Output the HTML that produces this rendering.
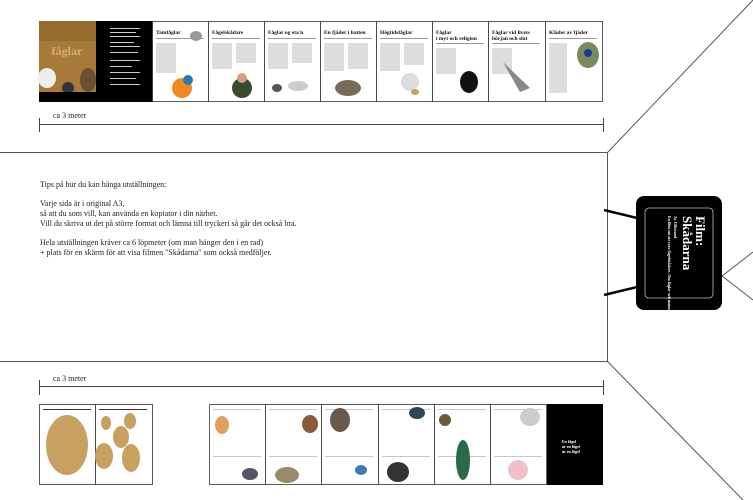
<!DOCTYPE html>
<html><head><meta charset="utf-8"><style>
html,body{margin:0;padding:0;background:#fff;}
svg{display:block;}
</style></head><body>
<svg width="753" height="500" viewBox="0 0 753 500" xmlns="http://www.w3.org/2000/svg" font-family="Liberation Serif, serif">
<!-- top row -->
<rect x="39" y="21" width="57" height="81" fill="#a87a3a"/>
<rect x="39" y="21" width="57" height="20" fill="#8a6024" opacity="0.6"/>
<text x="67" y="55" font-size="12" font-weight="bold" fill="#d8b070" text-anchor="middle">fåglar</text>
<ellipse cx="47" cy="78" rx="9" ry="10" fill="#eee"/>
<ellipse cx="88" cy="80" rx="8" ry="12" fill="#6a5030"/>
<ellipse cx="68" cy="88" rx="6" ry="6" fill="#334"/>
<rect x="39" y="92" width="57" height="10" fill="#000"/>
<rect x="96" y="21" width="57" height="81" fill="#000"/>
<g fill="#ccc">
<rect x="110" y="28" width="30" height="1"/><rect x="110" y="32" width="26" height="1"/><rect x="110" y="36" width="30" height="1"/><rect x="110" y="42" width="24" height="1"/><rect x="110" y="46" width="30" height="1"/><rect x="110" y="52" width="28" height="1"/><rect x="110" y="60" width="30" height="1"/><rect x="110" y="66" width="22" height="1"/><rect x="110" y="72" width="30" height="1"/><rect x="110" y="78" width="26" height="1"/><rect x="110" y="84" width="30" height="1"/>
</g>
<g stroke="#333" stroke-width="0.8" fill="#fff">
<rect x="152.5" y="21.5" width="56" height="80"/>
<rect x="208.5" y="21.5" width="56" height="80"/>
<rect x="264.5" y="21.5" width="56" height="80"/>
<rect x="320.5" y="21.5" width="56" height="80"/>
<rect x="376.5" y="21.5" width="56" height="80"/>
<rect x="432.5" y="21.5" width="56" height="80"/>
<rect x="488.5" y="21.5" width="57" height="80"/>
<rect x="545.5" y="21.5" width="57" height="80"/>
</g>
<g font-size="5.5" font-weight="bold" fill="#111">
<text x="156" y="34">Tamfåglar</text>
<text x="212" y="34">Fågelskådare</text>
<text x="268" y="34">Fåglar og eta'n</text>
<text x="324" y="34">En fjäder i hatten</text>
<text x="380" y="34">Högtidsfåglar</text>
<text x="436" y="34">Fåglar</text><text x="436" y="40">i myt och religion</text>
<text x="492" y="34">Fåglar vid livets</text><text x="492" y="40">början och slut</text>
<text x="549" y="34">Kläder av fjäder</text>
</g>
<g fill="#999">
<rect x="156" y="38" width="48" height="1"/><rect x="212" y="38" width="48" height="1"/><rect x="268" y="38" width="48" height="1"/><rect x="324" y="38" width="48" height="1"/><rect x="380" y="38" width="48" height="1"/><rect x="436" y="43" width="48" height="1"/><rect x="492" y="43" width="48" height="1"/><rect x="549" y="38" width="48" height="1"/>
</g>
<g fill="#bbb">
<rect x="156" y="43" width="20" height="30" opacity="0.5"/><rect x="212" y="43" width="20" height="26" opacity="0.5"/><rect x="236" y="43" width="20" height="20" opacity="0.5"/><rect x="268" y="43" width="20" height="26" opacity="0.5"/><rect x="292" y="43" width="20" height="20" opacity="0.5"/><rect x="324" y="43" width="20" height="28" opacity="0.5"/><rect x="348" y="43" width="20" height="26" opacity="0.5"/><rect x="380" y="43" width="20" height="28" opacity="0.5"/><rect x="404" y="43" width="20" height="22" opacity="0.5"/><rect x="436" y="48" width="20" height="26" opacity="0.5"/><rect x="492" y="48" width="20" height="26" opacity="0.5"/><rect x="549" y="43" width="18" height="50" opacity="0.5"/>
</g>
<ellipse cx="196" cy="36" rx="6" ry="5" fill="#999"/>
<ellipse cx="182" cy="88" rx="10" ry="10" fill="#f08a20"/><ellipse cx="188" cy="80" rx="5" ry="5" fill="#2a7ab8"/>
<ellipse cx="242" cy="88" rx="10" ry="10" fill="#3a4a30"/><ellipse cx="242" cy="78" rx="5" ry="5" fill="#d4a080"/>
<ellipse cx="298" cy="86" rx="10" ry="5" fill="#ccc"/><ellipse cx="277" cy="88" rx="5" ry="4" fill="#555"/>
<ellipse cx="348" cy="88" rx="13" ry="8" fill="#7a6a5a"/>
<ellipse cx="410" cy="82" rx="9" ry="9" fill="#ddd"/><ellipse cx="415" cy="92" rx="4" ry="3" fill="#c8a060"/>
<ellipse cx="469" cy="82" rx="9" ry="11" fill="#111"/>
<path d="M503 62 L520 92 L530 88 Z" fill="#888"/>
<ellipse cx="588" cy="55" rx="11" ry="13" fill="#7a8a60"/><ellipse cx="588" cy="53" rx="4" ry="4" fill="#1a3a9a"/>
<!-- top scale -->
<text x="53" y="118" font-size="8" fill="#222">ca 3 meter</text>
<g stroke="#444" stroke-width="1" fill="none">
<line x1="39" y1="124.5" x2="603" y2="124.5"/>
<line x1="39.5" y1="118" x2="39.5" y2="132"/>
<line x1="603.5" y1="118" x2="603.5" y2="132"/>
</g>
<!-- middle box -->
<g stroke="#555" stroke-width="1" fill="none">
<polyline points="0,152.5 607.5,152.5 607.5,361.5 0,361.5"/>
<line x1="607.5" y1="152.5" x2="753" y2="0"/>
<line x1="607.5" y1="361.5" x2="743" y2="500"/>
<line x1="722" y1="276" x2="753" y2="252"/>
<line x1="722" y1="276" x2="753" y2="300"/>
</g>
<g stroke="#000" stroke-width="2.5">
<line x1="604" y1="210" x2="637" y2="218"/>
<line x1="604" y1="295" x2="637" y2="287"/>
</g>
<g font-size="8" fill="#222">
<text x="40" y="187">Tips på hur du kan hänga utställningen:</text>
<text x="40" y="206">Varje sida är i original A3,</text>
<text x="40" y="216">så att du som vill, kan använda en kopiator i din närhet.</text>
<text x="40" y="226">Vill du skriva ut det på större format och lämna till tryckeri så går det också bra.</text>
<text x="40" y="245">Hela utställningen kräver ca 6 löpmeter (om man hänger den i en rad)</text>
<text x="40" y="255"> + plats för en skärm för att visa filmen "Skådarna" som också medföljer.</text>
</g>
<!-- film box -->
<rect x="636" y="196" width="86" height="114" rx="8" fill="#000"/>
<rect x="645" y="208" width="68" height="90" rx="4" fill="none" stroke="#bbb" stroke-width="0.8"/>
<g transform="translate(696,216) rotate(90)" fill="#fff" font-weight="bold">
<text x="0" y="0" font-size="13">Film:</text>
<text x="0" y="13" font-size="13">Skådarna</text>
<text x="0" y="22" font-size="4">Av Ulfstrand</text>
<text x="0" y="28" font-size="4">En film om att vara fågelskådare. Om fåglar och människor.</text>
</g>
<!-- bottom scale -->
<text x="53" y="381" font-size="8" fill="#222">ca 3 meter</text>
<g stroke="#444" stroke-width="1" fill="none">
<line x1="39" y1="386.5" x2="603" y2="386.5"/>
<line x1="39.5" y1="380" x2="39.5" y2="395"/>
<line x1="603.5" y1="380" x2="603.5" y2="395"/>
</g>
<!-- bottom row -->
<g stroke="#333" stroke-width="0.8" fill="#fff">
<rect x="39.5" y="404.5" width="56" height="80"/>
<rect x="95.5" y="404.5" width="57" height="80"/>
<rect x="209.5" y="404.5" width="56" height="80"/>
<rect x="265.5" y="404.5" width="56" height="80"/>
<rect x="321.5" y="404.5" width="57" height="80"/>
<rect x="378.5" y="404.5" width="56" height="80"/>
<rect x="434.5" y="404.5" width="56" height="80"/>
<rect x="490.5" y="404.5" width="56" height="80"/>
</g>
<rect x="547" y="404" width="56" height="81" fill="#000"/>
<g font-size="4" fill="#fff" font-weight="bold"><text x="562" y="443">En fågel</text><text x="562" y="448">är en fågel</text><text x="562" y="453">är en fågel</text></g>
<rect x="43" y="409" width="48" height="1" fill="#333"/><rect x="99" y="409" width="48" height="1" fill="#333"/>
<ellipse cx="67" cy="445" rx="21" ry="30" fill="#c8a060"/>
<ellipse cx="106" cy="423" rx="5" ry="7" fill="#c8a060"/><ellipse cx="121" cy="437" rx="8" ry="11" fill="#c8a060"/><ellipse cx="130" cy="421" rx="6" ry="8" fill="#c8a060"/><ellipse cx="104" cy="456" rx="9" ry="13" fill="#c8a060"/><ellipse cx="131" cy="458" rx="9" ry="14" fill="#c8a060"/>
<g fill="#bbb" opacity="0.8">
<rect x="213" y="409" width="48" height="1"/><rect x="269" y="409" width="48" height="1"/><rect x="325" y="409" width="48" height="1"/><rect x="382" y="409" width="48" height="1"/><rect x="438" y="409" width="48" height="1"/><rect x="494" y="409" width="48" height="1"/>
<rect x="213" y="456" width="48" height="1"/><rect x="269" y="456" width="48" height="1"/><rect x="325" y="456" width="48" height="1"/><rect x="382" y="456" width="48" height="1"/><rect x="438" y="456" width="48" height="1"/><rect x="494" y="456" width="48" height="1"/>
</g>
<ellipse cx="222" cy="425" rx="7" ry="9" fill="#e0a060"/><ellipse cx="250" cy="474" rx="8" ry="6" fill="#556"/>
<ellipse cx="310" cy="424" rx="8" ry="9" fill="#8a5a3a"/><ellipse cx="287" cy="475" rx="12" ry="8" fill="#9a8a6a"/>
<ellipse cx="340" cy="420" rx="10" ry="12" fill="#6a5a4a"/><ellipse cx="361" cy="470" rx="6" ry="5" fill="#3a7ab8"/>
<ellipse cx="417" cy="413" rx="8" ry="6" fill="#2a4a5a"/><ellipse cx="398" cy="472" rx="11" ry="10" fill="#333"/>
<ellipse cx="445" cy="420" rx="6" ry="6" fill="#6a5a3a"/><ellipse cx="463" cy="460" rx="7" ry="20" fill="#2a6a4a"/>
<ellipse cx="530" cy="417" rx="10" ry="9" fill="#ccc"/><ellipse cx="518" cy="470" rx="10" ry="10" fill="#f0c0c8"/>
</svg>
</body></html>
